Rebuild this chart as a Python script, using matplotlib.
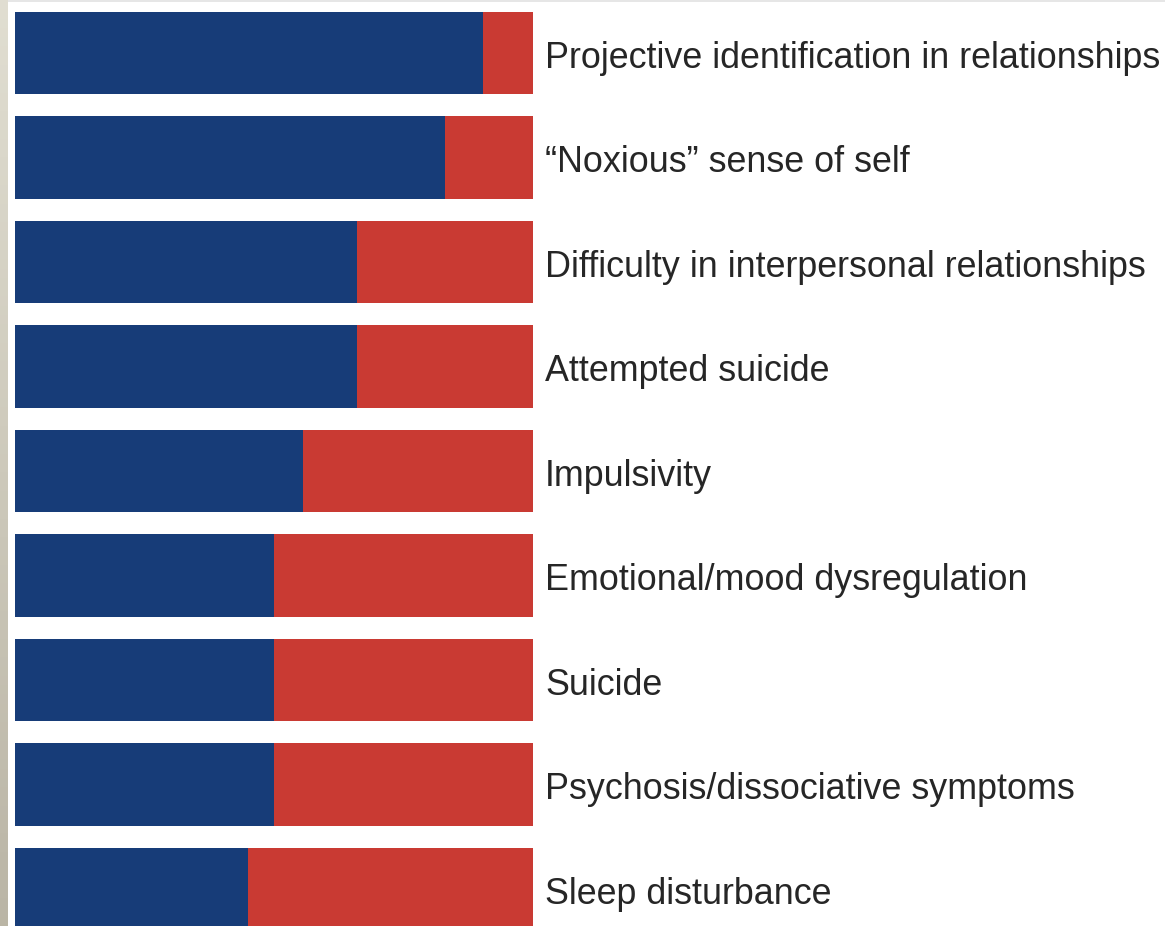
import numpy as np
import matplotlib
matplotlib.use("Agg")
import matplotlib.pyplot as plt
from matplotlib.patches import Rectangle

labels = [
    "Projective identification in relationships",
    "\u201cNoxious\u201d sense of self",
    "Difficulty in interpersonal relationships",
    "Attempted suicide",
    "Impulsivity",
    "Emotional/mood dysregulation",
    "Suicide",
    "Psychosis/dissociative symptoms",
    "Sleep disturbance",
]
blue_share = [90.4, 83, 66, 66, 55.6, 50, 50, 50, 45]
red_share = [100 - v for v in blue_share]

blue = "#173c78"
red = "#c93a33"

W, H = 1165, 926
fig = plt.figure(figsize=(W / 100, H / 100), dpi=100)
fig.patch.set_facecolor("white")

ax = fig.add_axes([0, 0, 1, 1])
# pixel layout: bars from x=15 to 533, first bar centre y=53, pitch 104.5
x0, span = 15, 518
pitch, c0 = 104.5, 53
ax.set_xlim(-x0 / span * 100, (W - x0) / span * 100)
ax.set_ylim((H - c0) / pitch, -c0 / pitch)
ax.axis("off")

ypos = np.arange(len(labels))
ax.barh(ypos, blue_share, height=0.79, color=blue, linewidth=0)
ax.barh(ypos, red_share, left=blue_share, height=0.79, color=red, linewidth=0)

for y, lab in zip(ypos, labels):
    ax.text(102.3, y + 0.05, lab, ha="left", va="center", fontsize=25.8,
            family="Liberation Sans", color="#262626")

# beige strip at left edge
strip = fig.add_axes([0, 0, 8 / W, 1])
grad = np.linspace(0, 1, 100).reshape(-1, 1)
top = np.array([0.88, 0.87, 0.82])
bot = np.array([0.73, 0.71, 0.65])
img = top + (bot - top) * grad[:, :, None]
strip.imshow(img, aspect="auto", extent=[0, 1, 0, 1], origin="upper")
strip.axis("off")

# faint top rule
fig.add_artist(Rectangle((8 / W, 1 - 2 / H), 1, 2 / H, transform=fig.transFigure,
                         color="#e6e6e6", lw=0))

fig.savefig("out.png", dpi=100)
